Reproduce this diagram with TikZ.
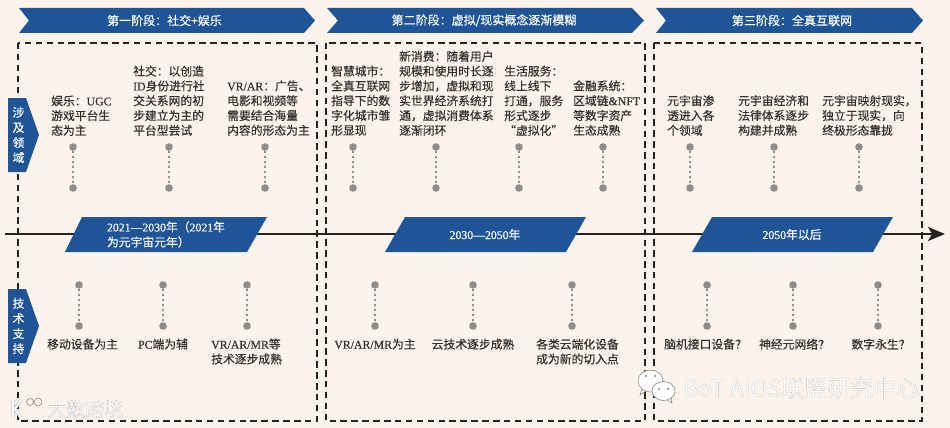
\documentclass[tikz,border=0pt]{standalone}
\usepackage{fontspec}
\usepackage{xcolor}
\setmainfont{Noto Sans CJK SC}[RawFeature={embolden=0.35}]
\newfontfamily\lat{Liberation Serif}[RawFeature={embolden=0.35}]
\usetikzlibrary{arrows.meta, positioning, calc}
\definecolor{paper}{HTML}{FBF3EC}
\definecolor{banner}{HTML}{1F5496}
\definecolor{ink}{HTML}{33302E}
\definecolor{axisc}{HTML}{262220}
\definecolor{pin}{HTML}{8F8B89}
\definecolor{halo}{HTML}{8A8785}
% white lettering with a grey edge
\newfontfamily\markfont{Noto Sans CJK SC}[RawFeature={embolden=0.12}]
\newcommand{\marktext}[1]{{\markfont\special{pdf:code 0.50 0.49 0.48 RG}#1}}
\tikzset{
  stage/.style ={fill=banner},
  frame/.style ={draw=axisc, line width=1.9pt, dash pattern=on 6.5pt off 4.4pt},
  item/.style  ={text=ink, align=left, inner sep=0pt, font=\fontsize{11.8}{14.8}\selectfont},
  pinup/.style ={circle, fill=pin, minimum size=7.6pt, inner sep=0pt},
  pinlink/.style={draw=pin, line width=1.9pt, dash pattern=on 2pt off 3pt},
  tagtxt/.style ={text=white, align=center, inner sep=0pt, font=\fontsize{11.8}{15.1}\selectfont},
  headtxt/.style={tagtxt, font=\fontsize{12}{14}\selectfont},
  wmark/.style  ={text=white, inner sep=0pt, anchor=west}
}
\begin{document}
\begin{tikzpicture}[x=1pt, y=-1pt, node distance=33pt]
  \useasboundingbox[fill=paper] (0,0) rectangle (950,428);

  % dashed frames
  \draw[frame] (18,43) rectangle (317,421);
  \draw[frame] (326,43) rectangle (645,421);
  \draw[frame] (654,43) rectangle (922,421);

  % stage banners
  \fill[stage] (19,8) -- (304,8) -- (315,20.5) -- (304,33) -- (19,33) -- (29,20.5) -- cycle;
  \fill[stage] (327,8) -- (632,8) -- (644,20.5) -- (632,33) -- (327,33) -- (338,20.5) -- cycle;
  \fill[stage] (656,8) -- (912,8) -- (923,20.5) -- (912,33) -- (656,33) -- (666,20.5) -- cycle;
  \node[headtxt] (st1) at (164.5,20.5) {第一阶段：社交+娱乐};
  \node[headtxt] (st2) at (484,20.5) {第二阶段：虚拟/现实概念逐渐模糊};
  \node[headtxt] (st3) at (792,20.5) {第三阶段：全真互联网};

  % side tags
  \fill[stage] (8,98) -- (26,98) -- (39,135) -- (26,172) -- (8,172) -- cycle;
  \fill[stage] (8,289) -- (26,289) -- (39,326) -- (26,363) -- (8,363) -- cycle;
  \node[tagtxt] (sd1) at (18.5,135) {涉\\及\\领\\域};
  \node[tagtxt] (sd2) at (18.5,326) {技\\术\\支\\持};

  % time axis
  \coordinate (axs) at (5,234);
  \coordinate (axe) at (945,234);
  \draw[axisc, line width=1.9pt, -{Stealth[length=17pt,width=14pt,inset=4pt]}] (axs) -- (axe);

  % period plates
  \fill[stage] (82,217) -- (267,217) -- (247,252) -- (65,252) -- cycle;
  \fill[stage] (405,217) -- (586,217) -- (566,252) -- (385,252) -- cycle;
  \fill[stage] (712,217) -- (893,217) -- (873,252) -- (692,252) -- cycle;
  \node[tagtxt, align=left] (pr1) at (166,234.5) {{\lat 2021—2030}年（{\lat 2021}年\\为元宇宙元年）};
  \node[tagtxt] (pr2) at (485,234.5) {{\lat 2030—2050}年};
  \node[tagtxt] (pr3) at (792,234.5) {{\lat 2050}年以后};

  % upper pins
  \foreach \nm/\px in {a/73, b/169, c/265, d/353, e/436, f/519, g/603, h/690, i/774, j/859} {
    \node[pinup] (up\nm) at (\px,147) {};
    \node[pinup, below=33pt of up\nm] (dn\nm) {};
    \draw[pinlink] (up\nm) -- (dn\nm);
  }
  % lower pins
  \foreach \nm/\px in {a/79, b/163, c/247, d/375, e/473, f/572, g/707, h/793, i/878} {
    \node[pinup] (lu\nm) at (\px,285) {};
    \node[pinup, below=33pt of lu\nm] (ld\nm) {};
    \draw[pinlink] (lu\nm) -- (ld\nm);
  }

  % upper items
  \node[item, anchor=south west] (ta) at (51,136) {娱乐：{\lat UGC}\\游戏平台生\\态为主};
  \node[item, anchor=south west] (tb) at (133,136) {社交：以创造\\{\lat ID}身份进行社\\交关系网的初\\步建立为主的\\平台型尝试};
  \node[item, anchor=south west] (tc) at (227,136) {{\lat VR/AR}：广告、\\电影和视频等\\需要结合海量\\内容的形态为主};
  \node[item, anchor=south west] (td) at (331,136) {智慧城市：\\全真互联网\\指导下的数\\字化城市雏\\形显现};
  \node[item, anchor=south west] (te) at (399,136) {新消费：随着用户\\规模和使用时长逐\\步增加，虚拟和现\\实世界经济系统打\\通，虚拟消费体系\\逐渐闭环};
  \node[item, anchor=south west] (tf) at (504,136) {生活服务：\\线上线下\\打通，服务\\形式逐步\\“虚拟化”};
  \node[item, anchor=south west] (tg) at (573,136) {金融系统：\\区域链{\lat \&NFT}\\等数字资产\\生态成熟};
  \node[item, anchor=south west] (th) at (667,136) {元宇宙渗\\透进入各\\个领域};
  \node[item, anchor=south west] (ti) at (738,136) {元宇宙经济和\\法律体系逐步\\构建并成熟};
  \node[item, anchor=south west] (tj) at (822,136) {元宇宙映射现实，\\独立于现实，向\\终极形态靠拢};

  % lower items
  \node[item, anchor=north west] (la) at (47,338.5) {移动设备为主};
  \node[item, anchor=north] (lb) at (163,338.5) {{\lat PC}端为辅};
  \node[item, anchor=north west] (lc) at (211,338.5) {{\lat VR/AR/MR}等\\技术逐步成熟};
  \node[item, anchor=north] (ld) at (375,338.5) {{\lat VR/AR/MR}为主};
  \node[item, anchor=north] (le) at (473,338.5) {云技术逐步成熟};
  \node[item, anchor=north west] (lf) at (536,338.5) {各类云端化设备\\成为新的切入点};
  \node[item, anchor=north] (lg) at (705.5,338.5) {脑机接口设备？};
  \node[item, anchor=north] (lh) at (794.5,338.5) {神经元网络？};
  \node[item, anchor=north] (li) at (881,338.5) {数字永生？};

  % watermarks
  \node[wmark, font=\fontsize{19}{22}\selectfont] (wm1) at (47,409) {\marktext{大数跨境}};
  \node[wmark, font=\fontsize{23}{26}\selectfont] (wm2) at (683,388) {\marktext{BoT AIOS联盟研究中心}};
  \draw[halo!70, line width=3pt] (13,400) -- (13,418) (21,400) -- (15,409) -- (21,418);
  \draw[white, line width=2pt] (13,400) -- (13,418) (21,400) -- (15,409) -- (21,418);
  \draw[halo, line width=0.6pt] (30,402) circle (3.5pt) (38,402) circle (4pt);
  \draw[fill=white, draw=halo, line width=0.6pt] (642,389) -- (640,395) -- (646,391) -- cycle;
  \draw[fill=white, draw=halo, line width=0.6pt] (650.5,381) ellipse (12.5pt and 11pt);
  \draw[fill=white, draw=halo, line width=0.6pt] (671,397) -- (672,403) -- (666,399) -- cycle;
  \draw[fill=white, draw=halo, line width=0.6pt] (663.5,391) ellipse (11.5pt and 9.5pt);
  \fill[halo] (646,376) circle (1.2pt) (655,376) circle (1.2pt) (659,389) circle (1.1pt) (668,389) circle (1.1pt);
\end{tikzpicture}
\end{document}
